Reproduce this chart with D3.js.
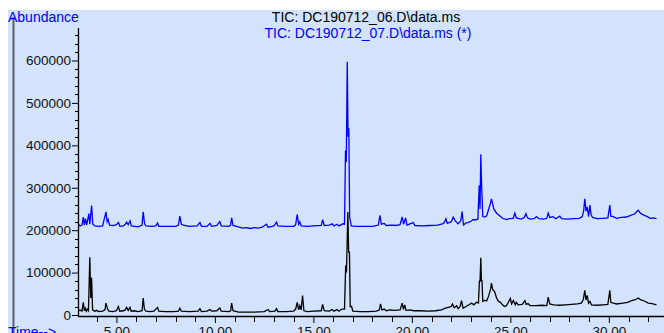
<!DOCTYPE html>
<html><head><meta charset="utf-8">
<script src="https://cdn.jsdelivr.net/npm/d3@7"></script>
<style>
html,body{margin:0;padding:0;background:#fff;overflow:hidden}
svg{display:block}
text{font-family:"Liberation Sans",Arial,sans-serif}
</style></head>
<body>
<svg id="c" width="664" height="333"></svg>
<script>
const titles = ["TIC: DC190712_06.D\\data.ms", "TIC: DC190712_07.D\\data.ms (*)"];
const yTicks = [0, 100000, 200000, 300000, 400000, 500000, 600000];
const xTicks = [5, 10, 15, 20, 25, 30];
const yLabel = "Abundance";
const xLabel = "Time-->";

// TIC DC190712_06 (black) [time min, abundance]
const tic06 = [
[3.05,9000],[3.15,12000],[3.25,9000],[3.32,30000],[3.37,10000],[3.42,16000],[3.47,9000],[3.52,14000],[3.58,10000],
[3.65,136000],[3.7,40000],[3.74,88000],[3.79,12000],[3.9,9000],[4.0,11000],[4.1,8000],[4.3,9000],[4.42,12000],
[4.47,28000],[4.55,14000],[4.62,9000],[4.8,8000],[5.0,10000],[5.1,20000],[5.17,9000],[5.35,10000],[5.45,12000],
[5.52,18000],[5.6,11000],[5.69,18000],[5.75,9000],[5.9,10000],[6.1,8000],[6.3,10000],[6.36,40000],[6.42,14000],
[6.5,9000],[6.7,8000],[6.9,9000],[7.09,18000],[7.15,9000],[7.5,8000],[7.9,8000],[8.15,9000],[8.22,16000],[8.3,9000],
[8.7,8000],[9.15,9000],[9.24,15000],[9.32,8000],[9.6,9000],[9.75,13000],[9.83,9000],[10.1,10000],[10.25,17000],
[10.32,9000],[10.7,8000],[10.8,10000],[10.85,28000],[10.92,10000],[11.2,7000],[11.6,7000],[12.0,7000],[12.5,8000],
[12.7,13000],[12.78,8000],[13.05,9000],[13.13,15000],[13.2,8000],[13.6,8000],[14.0,9000],[14.1,14000],[14.18,30000],
[14.25,12000],[14.31,22000],[14.38,12000],[14.45,46000],[14.52,10000],[14.7,8000],[15.0,9000],[15.4,10000],
[15.47,25000],[15.55,10000],[15.8,9000],[15.95,13000],[16.05,9000],[16.2,13000],[16.3,9000],[16.45,14000],
[16.58,14000],[16.64,117000],[16.68,100000],[16.75,243000],[16.79,148000],[16.83,148000],[16.87,20000],[16.94,20000],
[17.0,9000],[17.4,8000],[17.8,8000],[18.2,9000],[18.35,12000],[18.41,26000],[18.48,12000],[18.6,14000],[18.7,10000],
[18.9,12000],[19.1,11000],[19.4,12000],[19.51,28000],[19.57,13000],[19.64,24000],[19.7,11000],[19.9,12000],
[20.1,10000],[20.4,10000],[20.8,9000],[21.2,10000],[21.5,12000],[21.7,16000],[21.85,18000],[22.0,20000],
[22.06,26000],[22.15,17000],[22.27,22000],[22.35,15000],[22.45,20000],[22.52,34000],[22.6,16000],[22.75,20000],
[22.9,24000],[23.03,28000],[23.15,24000],[23.28,30000],[23.38,28000],[23.43,81000],[23.46,78000],[23.5,135000],
[23.53,81000],[23.56,81000],[23.6,32000],[23.7,35000],[23.8,33000],[23.9,45000],[24.0,62000],[24.04,75000],
[24.1,60000],[24.2,55000],[24.3,40000],[24.4,32000],[24.5,30000],[24.6,24000],[24.7,20000],[24.8,22000],
[24.9,30000],[25.0,39000],[25.06,26000],[25.15,34000],[25.25,24000],[25.3,30000],[25.4,24000],[25.6,25000],
[25.74,34000],[25.8,25000],[25.9,27000],[26.0,22000],[26.3,22000],[26.6,23000],[26.85,22000],[26.92,42000],
[27.0,26000],[27.2,24000],[27.5,23000],[27.8,24000],[28.1,25000],[28.4,26000],[28.6,28000],[28.7,36000],
[28.78,58000],[28.84,35000],[28.9,46000],[28.97,28000],[29.04,32000],[29.12,24000],[29.4,23000],[29.7,24000],
[29.95,25000],[30.05,58000],[30.1,30000],[30.22,28000],[30.4,26000],[30.7,28000],[30.95,30000],[31.15,34000],
[31.35,36000],[31.49,40000],[31.6,36000],[31.8,33000],[32.0,28000],[32.2,27000],[32.42,24000]
];

// TIC DC190712_07 (blue, offset overlay) [time min, abundance]
const tic07 = [
[3.05,215000],[3.15,210000],[3.25,212000],[3.32,231000],[3.37,212000],[3.43,227000],[3.49,212000],[3.55,226000],
[3.6,239000],[3.65,214000],[3.74,258000],[3.8,214000],[3.9,210000],[4.1,209000],[4.3,210000],[4.47,243000],
[4.53,220000],[4.58,225000],[4.65,212000],[4.85,211000],[5.0,213000],[5.1,218000],[5.18,209000],[5.35,210000],
[5.45,214000],[5.52,219000],[5.6,213000],[5.69,222000],[5.76,210000],[5.95,209000],[6.1,208000],[6.3,212000],
[6.36,243000],[6.43,215000],[6.5,210000],[6.8,209000],[7.0,210000],[7.09,217000],[7.15,209000],[7.6,209000],
[8.0,209000],[8.15,212000],[8.22,233000],[8.3,214000],[8.4,212000],[8.7,209000],[9.1,210000],[9.24,218000],
[9.32,209000],[9.6,209000],[9.75,216000],[9.83,209000],[10.1,211000],[10.25,220000],[10.32,210000],[10.7,209000],
[10.8,212000],[10.85,229000],[10.92,211000],[11.2,208000],[11.4,205000],[11.6,206000],[11.8,204000],[12.0,206000],
[12.2,205000],[12.4,207000],[12.62,214000],[12.7,207000],[13.0,210000],[13.13,219000],[13.2,210000],[13.6,209000],
[14.0,209000],[14.1,213000],[14.18,237000],[14.25,214000],[14.31,220000],[14.38,210000],[14.7,209000],[15.0,210000],
[15.4,211000],[15.47,225000],[15.55,211000],[15.8,212000],[15.95,215000],[16.05,210000],[16.2,214000],[16.3,210000],
[16.5,215000],[16.58,214000],[16.63,388000],[16.67,360000],[16.72,597000],[16.76,420000],[16.8,440000],
[16.84,230000],[16.88,222000],[16.92,210000],[17.2,209000],[17.6,209000],[18.0,209000],[18.3,212000],
[18.38,235000],[18.45,214000],[18.6,216000],[18.7,211000],[19.0,212000],[19.2,211000],[19.4,213000],[19.51,231000],
[19.58,214000],[19.68,229000],[19.75,212000],[20.07,218000],[20.15,211000],[20.5,210000],[20.9,211000],
[21.3,212000],[21.55,215000],[21.65,218000],[21.73,227000],[21.8,216000],[22.0,220000],[22.1,231000],[22.2,222000],
[22.35,215000],[22.48,222000],[22.55,244000],[22.62,212000],[22.75,217000],[22.85,218000],[23.0,221000],
[23.11,225000],[23.2,224000],[23.35,226000],[23.42,306000],[23.46,250000],[23.5,379000],[23.54,306000],
[23.6,232000],[23.7,231000],[23.8,234000],[23.9,250000],[24.0,265000],[24.04,274000],[24.1,262000],[24.16,250000],
[24.3,240000],[24.38,237000],[24.5,232000],[24.6,228000],[24.8,225000],[24.95,227000],[25.14,228000],[25.23,240000],
[25.3,229000],[25.4,228000],[25.55,226000],[25.7,230000],[25.79,239000],[25.87,229000],[26.0,226000],[26.2,227000],
[26.33,232000],[26.45,227000],[26.7,226000],[26.85,228000],[26.92,240000],[27.0,230000],[27.17,232000],
[27.3,227000],[27.51,233000],[27.6,227000],[27.9,226000],[28.2,227000],[28.5,228000],[28.65,232000],[28.72,245000],
[28.78,274000],[28.84,245000],[28.9,255000],[28.97,232000],[29.04,259000],[29.1,236000],[29.17,230000],
[29.4,227000],[29.7,228000],[29.95,229000],[30.05,259000],[30.1,233000],[30.22,232000],[30.4,228000],
[30.64,230000],[30.9,231000],[31.1,235000],[31.3,238000],[31.49,247000],[31.6,240000],[31.75,236000],
[31.95,232000],[32.1,228000],[32.25,229000],[32.42,227000]
];

const svg = d3.select("#c");
const W = 664, H = 333;
const x = d3.scaleLinear().domain([3.05, 32.8]).range([78, 664]);
const y = d3.scaleLinear().domain([0, 600000]).range([315, 60.5]);
const yTop = 28, xAxisY = 316;

svg.append("rect").attr("x", 8).attr("y", 10).attr("width", W - 8).attr("height", H - 10).attr("fill", "#d3e3fb");
svg.append("line").attr("x1", 13.5).attr("x2", 13.5).attr("y1", 17).attr("y2", H).attr("stroke", "#606060").attr("stroke-width", 2);

// titles
svg.append("text").attr("x", 366).attr("y", 22).attr("text-anchor", "middle").attr("font-size", 14).attr("fill", "#000").text(titles[0]);
svg.append("text").attr("x", 368).attr("y", 38).attr("text-anchor", "middle").attr("font-size", 14).attr("fill", "#0000ff").text(titles[1]);

svg.append("text").attr("x", 8).attr("y", 22).attr("font-size", 14).attr("fill", "#0000ff").text(yLabel);
svg.append("text").attr("x", 8).attr("y", 337).attr("font-size", 14).attr("fill", "#0000ff").text(xLabel);

// clip for traces
svg.append("clipPath").attr("id", "pc").append("rect").attr("x", 78).attr("y", 0).attr("width", W - 78).attr("height", xAxisY);

const line = d3.line().x(d => x(d[0])).y(d => y(d[1])).curve(d3.curveLinear);
const g = svg.append("g").attr("clip-path", "url(#pc)");
g.append("path").datum(tic06).attr("d", line).attr("fill", "none").attr("stroke", "#000").attr("stroke-width", 1.3);
g.append("path").datum(tic07).attr("d", line).attr("fill", "none").attr("stroke", "#0000ff").attr("stroke-width", 1.3);

// Y axis
const yMax = y.invert(yTop);
const yAxis = d3.axisLeft(y).tickValues(yTicks).tickSize(6).tickPadding(1).tickFormat(d3.format("d"));
const ya = svg.append("g").attr("transform", "translate(78,0)").call(yAxis);
ya.select(".domain").remove();
ya.selectAll("text").attr("font-size", 13.5).attr("font-family", "Liberation Sans, Arial, sans-serif").attr("fill", "#111");
ya.selectAll("line").attr("stroke", "#000");
const yMinor = d3.range(0, yMax, 20000).filter(v => v % 100000 !== 0);
svg.append("g").selectAll("line").data(yMinor).join("line")
  .attr("x1", 75).attr("x2", 78).attr("y1", d => Math.round(y(d)) + 0.5).attr("y2", d => Math.round(y(d)) + 0.5)
  .attr("stroke", "#000");
svg.append("line").attr("x1", 78.5).attr("x2", 78.5).attr("y1", yTop).attr("y2", xAxisY + 1).attr("stroke", "#000").attr("stroke-width", 1.3);

// X axis
const xAxis = d3.axisBottom(x).tickValues(xTicks).tickSize(7).tickPadding(3).tickFormat(d3.format(".2f"));
const xa = svg.append("g").attr("transform", `translate(0,${xAxisY})`).call(xAxis);
xa.select(".domain").remove();
xa.selectAll("text").attr("font-size", 13.5).attr("font-family", "Liberation Sans, Arial, sans-serif").attr("fill", "#111");
const xMinor = d3.range(4, 33, 1).filter(v => v % 5 !== 0);
svg.append("g").selectAll("line").data(xMinor).join("line")
  .attr("x1", d => Math.round(x(d)) + 0.5).attr("x2", d => Math.round(x(d)) + 0.5).attr("y1", xAxisY).attr("y2", xAxisY + 6)
  .attr("stroke", "#000");
svg.append("line").attr("x1", 78).attr("x2", W).attr("y1", xAxisY + 0.5).attr("y2", xAxisY + 0.5).attr("stroke", "#000").attr("stroke-width", 1.3);
</script>
</body></html>
